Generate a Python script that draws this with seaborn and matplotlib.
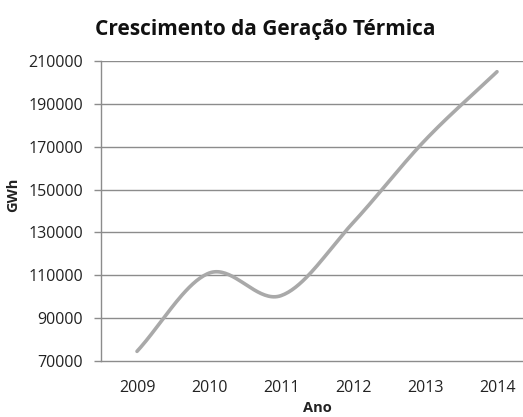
import numpy as np
import pandas as pd
import matplotlib
matplotlib.use("Agg")
import matplotlib.pyplot as plt
import seaborn as sns

# Annual thermal generation (GWh)
anos = ["2009", "2010", "2011", "2012", "2013", "2014"]
geracao = [74500, 111000, 100500, 134500, 173000, 205000]
y_ticks = [70000, 90000, 110000, 130000, 150000, 170000, 190000, 210000]


def catmull_rom(xs, ys, n=40):
    """Smooth curve through the points (Excel-style smoothed line)."""
    xs = np.asarray(xs, float)
    ys = np.asarray(ys, float)
    px = np.concatenate([[2 * xs[0] - xs[1]], xs, [2 * xs[-1] - xs[-2]]])
    py = np.concatenate([[2 * ys[0] - ys[1]], ys, [2 * ys[-1] - ys[-2]]])
    out_x, out_y = [], []
    for i in range(1, len(px) - 2):
        t = np.linspace(0, 1, n, endpoint=(i == len(px) - 3))
        for arr, out in ((px, out_x), (py, out_y)):
            p0, p1, p2, p3 = arr[i - 1], arr[i], arr[i + 1], arr[i + 2]
            m1 = (p2 - p0) / 2
            m2 = (p3 - p1) / 2
            h00 = 2 * t**3 - 3 * t**2 + 1
            h10 = t**3 - 2 * t**2 + t
            h01 = -2 * t**3 + 3 * t**2
            h11 = t**3 - t**2
            out.extend(h00 * p1 + h10 * m1 + h01 * p2 + h11 * m2)
    return np.array(out_x), np.array(out_y)


sns.set_style("white")
plt.rcParams["font.family"] = ["Open Sans", "DejaVu Sans"]

fig = plt.figure(figsize=(5.23, 4.17), dpi=100)
ax = fig.add_axes([101 / 523, 56 / 417, 432 / 523, 300 / 417])

pos = np.arange(len(anos))
sx, sy = catmull_rom(pos, geracao)
df = pd.DataFrame({"x": sx, "GWh": sy})
sns.lineplot(data=df, x="x", y="GWh", ax=ax, color="#a9a9a9", linewidth=2.6,
             sort=False, estimator=None)

ax.set_xlim(-0.5, len(anos) - 0.5)
ax.set_ylim(y_ticks[0], y_ticks[-1])
ax.set_yticks(y_ticks)
ax.set_xticks(pos)
ax.set_xticklabels(anos)

grid_c = "#8c8c8c"
for v in y_ticks[1:]:
    ax.axhline(v, color=grid_c, linewidth=1.0, zorder=0)

for side in ("top", "right"):
    ax.spines[side].set_visible(False)
for side in ("left", "bottom"):
    ax.spines[side].set_color(grid_c)
    ax.spines[side].set_linewidth(1.0)

ax.tick_params(axis="y", which="major", left=True, length=5, width=1,
               color=grid_c, labelsize=11.5, labelcolor="#222222", pad=8)
ax.tick_params(axis="x", which="major", bottom=False, labelsize=11.5,
               labelcolor="#222222", pad=10)

ax.set_xlabel("")
ax.set_ylabel("")
fig.text(317 / 523, 1 - 408 / 417, "Ano", ha="center", va="center",
         fontsize=10.5, fontweight="bold", color="#222222")
fig.text(13 / 523, 1 - 195 / 417, "GWh", ha="center", va="center", rotation=90,
         fontsize=10.5, fontweight="bold", color="#222222")

fig.text(265 / 523, 1 - 30 / 417, "Crescimento da Geração Térmica",
         ha="center", va="center", fontsize=15, fontweight="bold", color="#111111")

fig.savefig("out.png", dpi=100)
